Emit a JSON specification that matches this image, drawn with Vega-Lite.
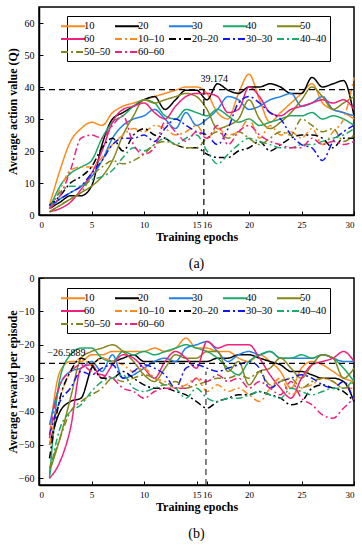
{
"$schema": "https://vega.github.io/schema/vega-lite/v6.json",
"padding": {"left": 5, "top": 6, "right": 4, "bottom": 0},
"spacing": 0,
"config": {
  "font": "Liberation Serif",
  "view": {"stroke": "black", "strokeWidth": 1.5},
  "axis": {"grid": false, "domainColor": "black", "domainWidth": 1.5, "tickColor": "black", "tickSize": -4, "labelColor": "black", "labelFontSize": 10, "labelFont": "Liberation Serif", "titleFont": "Liberation Serif", "titleFontSize": 12, "titleFontWeight": "bold", "titleColor": "black", "labelPadding": 9},
  "axisX": {"labelFontSize": 9, "titlePadding": 2},
  "legend": {"orient": "none", "direction": "horizontal", "columns": 5, "symbolType": "M-2,0H2", "symbolSize": 144, "symbolStrokeWidth": 2, "symbolOffset": -4, "labelFont": "Liberation Serif", "labelFontSize": 10.5, "labelColor": "black", "strokeColor": "black", "fillColor": "white", "padding": 3, "rowPadding": 0, "columnPadding": 0, "gridAlign": "all", "title": null, "labelOffset": 4},
  "title": {"font": "Liberation Serif", "fontSize": 14, "fontWeight": "normal", "color": "black"}
},
"resolve": {"scale": {"color": "independent", "strokeDash": "independent"}, "legend": {"color": "independent", "strokeDash": "independent"}},
"datasets": {
"a": [
{"s":"10","x":1,"y":3},{"s":"10","x":2,"y":14},{"s":"10","x":3,"y":23},{"s":"10","x":4,"y":27},{"s":"10","x":5,"y":29},{"s":"10","x":6,"y":28},{"s":"10","x":7,"y":32},{"s":"10","x":8,"y":34},{"s":"10","x":9,"y":35},{"s":"10","x":10,"y":36},{"s":"10","x":11,"y":37},{"s":"10","x":12,"y":38},{"s":"10","x":13,"y":39},{"s":"10","x":14,"y":40},{"s":"10","x":15,"y":40},{"s":"10","x":16,"y":38},{"s":"10","x":17,"y":32},{"s":"10","x":18,"y":30},{"s":"10","x":19,"y":38},{"s":"10","x":20,"y":44},{"s":"10","x":21,"y":36},{"s":"10","x":22,"y":29},{"s":"10","x":23,"y":32},{"s":"10","x":24,"y":35},{"s":"10","x":25,"y":38},{"s":"10","x":26,"y":41},{"s":"10","x":27,"y":35},{"s":"10","x":28,"y":33},{"s":"10","x":29,"y":32},{"s":"10","x":30,"y":30},
{"s":"20","x":1,"y":2},{"s":"20","x":2,"y":4},{"s":"20","x":3,"y":6},{"s":"20","x":4,"y":6},{"s":"20","x":5,"y":9},{"s":"20","x":6,"y":22},{"s":"20","x":7,"y":30},{"s":"20","x":8,"y":32},{"s":"20","x":9,"y":34},{"s":"20","x":10,"y":36},{"s":"20","x":11,"y":37},{"s":"20","x":12,"y":33},{"s":"20","x":13,"y":36},{"s":"20","x":14,"y":39},{"s":"20","x":15,"y":39},{"s":"20","x":16,"y":36},{"s":"20","x":17,"y":41},{"s":"20","x":18,"y":39},{"s":"20","x":19,"y":38},{"s":"20","x":20,"y":40},{"s":"20","x":21,"y":40},{"s":"20","x":22,"y":41},{"s":"20","x":23,"y":40},{"s":"20","x":24,"y":38},{"s":"20","x":25,"y":38},{"s":"20","x":26,"y":43},{"s":"20","x":27,"y":40},{"s":"20","x":28,"y":41},{"s":"20","x":29,"y":42},{"s":"20","x":30,"y":31},
{"s":"30","x":1,"y":2},{"s":"30","x":2,"y":5},{"s":"30","x":3,"y":7},{"s":"30","x":4,"y":9},{"s":"30","x":5,"y":12},{"s":"30","x":6,"y":17},{"s":"30","x":7,"y":24},{"s":"30","x":8,"y":28},{"s":"30","x":9,"y":30},{"s":"30","x":10,"y":31},{"s":"30","x":11,"y":33},{"s":"30","x":12,"y":30},{"s":"30","x":13,"y":27},{"s":"30","x":14,"y":32},{"s":"30","x":15,"y":28},{"s":"30","x":16,"y":30},{"s":"30","x":17,"y":33},{"s":"30","x":18,"y":37},{"s":"30","x":19,"y":36},{"s":"30","x":20,"y":33},{"s":"30","x":21,"y":34},{"s":"30","x":22,"y":36},{"s":"30","x":23,"y":37},{"s":"30","x":24,"y":38},{"s":"30","x":25,"y":34},{"s":"30","x":26,"y":35},{"s":"30","x":27,"y":37},{"s":"30","x":28,"y":33},{"s":"30","x":29,"y":32},{"s":"30","x":30,"y":31},
{"s":"40","x":1,"y":2},{"s":"40","x":2,"y":9},{"s":"40","x":3,"y":13},{"s":"40","x":4,"y":15},{"s":"40","x":5,"y":17},{"s":"40","x":6,"y":24},{"s":"40","x":7,"y":29},{"s":"40","x":8,"y":31},{"s":"40","x":9,"y":34},{"s":"40","x":10,"y":36},{"s":"40","x":11,"y":35},{"s":"40","x":12,"y":31},{"s":"40","x":13,"y":30},{"s":"40","x":14,"y":33},{"s":"40","x":15,"y":32},{"s":"40","x":16,"y":31},{"s":"40","x":17,"y":33},{"s":"40","x":18,"y":31},{"s":"40","x":19,"y":29},{"s":"40","x":20,"y":30},{"s":"40","x":21,"y":28},{"s":"40","x":22,"y":29},{"s":"40","x":23,"y":30},{"s":"40","x":24,"y":31},{"s":"40","x":25,"y":31},{"s":"40","x":26,"y":32},{"s":"40","x":27,"y":30},{"s":"40","x":28,"y":31},{"s":"40","x":29,"y":30},{"s":"40","x":30,"y":28},
{"s":"50","x":1,"y":1},{"s":"50","x":2,"y":3},{"s":"50","x":3,"y":5},{"s":"50","x":4,"y":7},{"s":"50","x":5,"y":9},{"s":"50","x":6,"y":12},{"s":"50","x":7,"y":17},{"s":"50","x":8,"y":25},{"s":"50","x":9,"y":31},{"s":"50","x":10,"y":36},{"s":"50","x":11,"y":35},{"s":"50","x":12,"y":36},{"s":"50","x":13,"y":37},{"s":"50","x":14,"y":38},{"s":"50","x":15,"y":37},{"s":"50","x":16,"y":33},{"s":"50","x":17,"y":27},{"s":"50","x":18,"y":28},{"s":"50","x":19,"y":30},{"s":"50","x":20,"y":36},{"s":"50","x":21,"y":30},{"s":"50","x":22,"y":27},{"s":"50","x":23,"y":29},{"s":"50","x":24,"y":32},{"s":"50","x":25,"y":36},{"s":"50","x":26,"y":40},{"s":"50","x":27,"y":37},{"s":"50","x":28,"y":33},{"s":"50","x":29,"y":35},{"s":"50","x":30,"y":37},
{"s":"60","x":1,"y":1},{"s":"60","x":2,"y":2},{"s":"60","x":3,"y":4},{"s":"60","x":4,"y":8},{"s":"60","x":5,"y":13},{"s":"60","x":6,"y":20},{"s":"60","x":7,"y":29},{"s":"60","x":8,"y":33},{"s":"60","x":9,"y":34},{"s":"60","x":10,"y":35},{"s":"60","x":11,"y":32},{"s":"60","x":12,"y":30},{"s":"60","x":13,"y":34},{"s":"60","x":14,"y":37},{"s":"60","x":15,"y":38},{"s":"60","x":16,"y":38},{"s":"60","x":17,"y":37},{"s":"60","x":18,"y":32},{"s":"60","x":19,"y":33},{"s":"60","x":20,"y":40},{"s":"60","x":21,"y":37},{"s":"60","x":22,"y":32},{"s":"60","x":23,"y":31},{"s":"60","x":24,"y":33},{"s":"60","x":25,"y":34},{"s":"60","x":26,"y":35},{"s":"60","x":27,"y":36},{"s":"60","x":28,"y":35},{"s":"60","x":29,"y":36},{"s":"60","x":30,"y":33},
{"s":"10–10","x":1,"y":2},{"s":"10–10","x":2,"y":8},{"s":"10–10","x":3,"y":14},{"s":"10–10","x":4,"y":15},{"s":"10–10","x":5,"y":15},{"s":"10–10","x":6,"y":18},{"s":"10–10","x":7,"y":22},{"s":"10–10","x":8,"y":25},{"s":"10–10","x":9,"y":27},{"s":"10–10","x":10,"y":26},{"s":"10–10","x":11,"y":28},{"s":"10–10","x":12,"y":27},{"s":"10–10","x":13,"y":25},{"s":"10–10","x":14,"y":26},{"s":"10–10","x":15,"y":28},{"s":"10–10","x":16,"y":24},{"s":"10–10","x":17,"y":27},{"s":"10–10","x":18,"y":25},{"s":"10–10","x":19,"y":26},{"s":"10–10","x":20,"y":30},{"s":"10–10","x":21,"y":24},{"s":"10–10","x":22,"y":28},{"s":"10–10","x":23,"y":25},{"s":"10–10","x":24,"y":26},{"s":"10–10","x":25,"y":24},{"s":"10–10","x":26,"y":27},{"s":"10–10","x":27,"y":22},{"s":"10–10","x":28,"y":26},{"s":"10–10","x":29,"y":30},{"s":"10–10","x":30,"y":43},
{"s":"20–20","x":1,"y":3},{"s":"20–20","x":2,"y":6},{"s":"20–20","x":3,"y":10},{"s":"20–20","x":4,"y":12},{"s":"20–20","x":5,"y":15},{"s":"20–20","x":6,"y":21},{"s":"20–20","x":7,"y":24},{"s":"20–20","x":8,"y":20},{"s":"20–20","x":9,"y":25},{"s":"20–20","x":10,"y":27},{"s":"20–20","x":11,"y":25},{"s":"20–20","x":12,"y":24},{"s":"20–20","x":13,"y":22},{"s":"20–20","x":14,"y":21},{"s":"20–20","x":15,"y":21},{"s":"20–20","x":16,"y":19},{"s":"20–20","x":17,"y":18},{"s":"20–20","x":18,"y":18},{"s":"20–20","x":19,"y":20},{"s":"20–20","x":20,"y":21},{"s":"20–20","x":21,"y":23},{"s":"20–20","x":22,"y":20},{"s":"20–20","x":23,"y":22},{"s":"20–20","x":24,"y":24},{"s":"20–20","x":25,"y":25},{"s":"20–20","x":26,"y":25},{"s":"20–20","x":27,"y":24},{"s":"20–20","x":28,"y":21},{"s":"20–20","x":29,"y":24},{"s":"20–20","x":30,"y":24},
{"s":"30–30","x":1,"y":3},{"s":"30–30","x":2,"y":5},{"s":"30–30","x":3,"y":7},{"s":"30–30","x":4,"y":9},{"s":"30–30","x":5,"y":13},{"s":"30–30","x":6,"y":17},{"s":"30–30","x":7,"y":22},{"s":"30–30","x":8,"y":24},{"s":"30–30","x":9,"y":24},{"s":"30–30","x":10,"y":25},{"s":"30–30","x":11,"y":23},{"s":"30–30","x":12,"y":27},{"s":"30–30","x":13,"y":30},{"s":"30–30","x":14,"y":28},{"s":"30–30","x":15,"y":26},{"s":"30–30","x":16,"y":25},{"s":"30–30","x":17,"y":22},{"s":"30–30","x":18,"y":27},{"s":"30–30","x":19,"y":35},{"s":"30–30","x":20,"y":37},{"s":"30–30","x":21,"y":35},{"s":"30–30","x":22,"y":32},{"s":"30–30","x":23,"y":30},{"s":"30–30","x":24,"y":25},{"s":"30–30","x":25,"y":22},{"s":"30–30","x":26,"y":21},{"s":"30–30","x":27,"y":17},{"s":"30–30","x":28,"y":23},{"s":"30–30","x":29,"y":26},{"s":"30–30","x":30,"y":28},
{"s":"40–40","x":1,"y":2},{"s":"40–40","x":2,"y":7},{"s":"40–40","x":3,"y":9},{"s":"40–40","x":4,"y":9},{"s":"40–40","x":5,"y":11},{"s":"40–40","x":6,"y":12},{"s":"40–40","x":7,"y":14},{"s":"40–40","x":8,"y":18},{"s":"40–40","x":9,"y":21},{"s":"40–40","x":10,"y":20},{"s":"40–40","x":11,"y":22},{"s":"40–40","x":12,"y":24},{"s":"40–40","x":13,"y":22},{"s":"40–40","x":14,"y":24},{"s":"40–40","x":15,"y":25},{"s":"40–40","x":16,"y":20},{"s":"40–40","x":17,"y":16},{"s":"40–40","x":18,"y":19},{"s":"40–40","x":19,"y":22},{"s":"40–40","x":20,"y":24},{"s":"40–40","x":21,"y":23},{"s":"40–40","x":22,"y":22},{"s":"40–40","x":23,"y":21},{"s":"40–40","x":24,"y":21},{"s":"40–40","x":25,"y":22},{"s":"40–40","x":26,"y":22},{"s":"40–40","x":27,"y":23},{"s":"40–40","x":28,"y":24},{"s":"40–40","x":29,"y":25},{"s":"40–40","x":30,"y":27},
{"s":"50–50","x":1,"y":1},{"s":"50–50","x":2,"y":3},{"s":"50–50","x":3,"y":5},{"s":"50–50","x":4,"y":7},{"s":"50–50","x":5,"y":12},{"s":"50–50","x":6,"y":15},{"s":"50–50","x":7,"y":17},{"s":"50–50","x":8,"y":16},{"s":"50–50","x":9,"y":17},{"s":"50–50","x":10,"y":19},{"s":"50–50","x":11,"y":22},{"s":"50–50","x":12,"y":23},{"s":"50–50","x":13,"y":22},{"s":"50–50","x":14,"y":21},{"s":"50–50","x":15,"y":21},{"s":"50–50","x":16,"y":24},{"s":"50–50","x":17,"y":26},{"s":"50–50","x":18,"y":24},{"s":"50–50","x":19,"y":26},{"s":"50–50","x":20,"y":24},{"s":"50–50","x":21,"y":22},{"s":"50–50","x":22,"y":24},{"s":"50–50","x":23,"y":26},{"s":"50–50","x":24,"y":25},{"s":"50–50","x":25,"y":30},{"s":"50–50","x":26,"y":28},{"s":"50–50","x":27,"y":26},{"s":"50–50","x":28,"y":27},{"s":"50–50","x":29,"y":23},{"s":"50–50","x":30,"y":25},
{"s":"60–60","x":1,"y":2},{"s":"60–60","x":2,"y":6},{"s":"60–60","x":3,"y":14},{"s":"60–60","x":4,"y":24},{"s":"60–60","x":5,"y":25},{"s":"60–60","x":6,"y":24},{"s":"60–60","x":7,"y":28},{"s":"60–60","x":8,"y":31},{"s":"60–60","x":9,"y":22},{"s":"60–60","x":10,"y":19},{"s":"60–60","x":11,"y":21},{"s":"60–60","x":12,"y":29},{"s":"60–60","x":13,"y":26},{"s":"60–60","x":14,"y":23},{"s":"60–60","x":15,"y":26},{"s":"60–60","x":16,"y":24},{"s":"60–60","x":17,"y":28},{"s":"60–60","x":18,"y":22},{"s":"60–60","x":19,"y":26},{"s":"60–60","x":20,"y":28},{"s":"60–60","x":21,"y":25},{"s":"60–60","x":22,"y":23},{"s":"60–60","x":23,"y":22},{"s":"60–60","x":24,"y":21},{"s":"60–60","x":25,"y":21},{"s":"60–60","x":26,"y":24},{"s":"60–60","x":27,"y":22},{"s":"60–60","x":28,"y":23},{"s":"60–60","x":29,"y":22},{"s":"60–60","x":30,"y":23}
],
"b": [
{"s":"10","x":1,"y":-47},{"s":"10","x":2,"y":-28},{"s":"10","x":3,"y":-25},{"s":"10","x":4,"y":-25},{"s":"10","x":5,"y":-23},{"s":"10","x":6,"y":-23},{"s":"10","x":7,"y":-22},{"s":"10","x":8,"y":-22},{"s":"10","x":9,"y":-22},{"s":"10","x":10,"y":-22},{"s":"10","x":11,"y":-21},{"s":"10","x":12,"y":-22},{"s":"10","x":13,"y":-21},{"s":"10","x":14,"y":-18},{"s":"10","x":15,"y":-21},{"s":"10","x":16,"y":-21},{"s":"10","x":17,"y":-22},{"s":"10","x":18,"y":-22},{"s":"10","x":19,"y":-24},{"s":"10","x":20,"y":-25},{"s":"10","x":21,"y":-23},{"s":"10","x":22,"y":-25},{"s":"10","x":23,"y":-28},{"s":"10","x":24,"y":-33},{"s":"10","x":25,"y":-27},{"s":"10","x":26,"y":-25},{"s":"10","x":27,"y":-26},{"s":"10","x":28,"y":-28},{"s":"10","x":29,"y":-30},{"s":"10","x":30,"y":-31},
{"s":"20","x":1,"y":-50},{"s":"20","x":2,"y":-40},{"s":"20","x":3,"y":-37},{"s":"20","x":4,"y":-36},{"s":"20","x":5,"y":-27},{"s":"20","x":6,"y":-24},{"s":"20","x":7,"y":-25},{"s":"20","x":8,"y":-24},{"s":"20","x":9,"y":-23},{"s":"20","x":10,"y":-25},{"s":"20","x":11,"y":-25},{"s":"20","x":12,"y":-25},{"s":"20","x":13,"y":-25},{"s":"20","x":14,"y":-25},{"s":"20","x":15,"y":-25},{"s":"20","x":16,"y":-25},{"s":"20","x":17,"y":-24},{"s":"20","x":18,"y":-24},{"s":"20","x":19,"y":-23},{"s":"20","x":20,"y":-23},{"s":"20","x":21,"y":-24},{"s":"20","x":22,"y":-25},{"s":"20","x":23,"y":-26},{"s":"20","x":24,"y":-28},{"s":"20","x":25,"y":-28},{"s":"20","x":26,"y":-29},{"s":"20","x":27,"y":-30},{"s":"20","x":28,"y":-30},{"s":"20","x":29,"y":-31},{"s":"20","x":30,"y":-37},
{"s":"30","x":1,"y":-44},{"s":"30","x":2,"y":-32},{"s":"30","x":3,"y":-28},{"s":"30","x":4,"y":-27},{"s":"30","x":5,"y":-25},{"s":"30","x":6,"y":-28},{"s":"30","x":7,"y":-23},{"s":"30","x":8,"y":-30},{"s":"30","x":9,"y":-29},{"s":"30","x":10,"y":-27},{"s":"30","x":11,"y":-25},{"s":"30","x":12,"y":-24},{"s":"30","x":13,"y":-25},{"s":"30","x":14,"y":-21},{"s":"30","x":15,"y":-20},{"s":"30","x":16,"y":-19},{"s":"30","x":17,"y":-22},{"s":"30","x":18,"y":-25},{"s":"30","x":19,"y":-23},{"s":"30","x":20,"y":-22},{"s":"30","x":21,"y":-23},{"s":"30","x":22,"y":-22},{"s":"30","x":23,"y":-24},{"s":"30","x":24,"y":-24},{"s":"30","x":25,"y":-24},{"s":"30","x":26,"y":-24},{"s":"30","x":27,"y":-23},{"s":"30","x":28,"y":-24},{"s":"30","x":29,"y":-25},{"s":"30","x":30,"y":-25},
{"s":"40","x":1,"y":-60},{"s":"40","x":2,"y":-30},{"s":"40","x":3,"y":-23},{"s":"40","x":4,"y":-21},{"s":"40","x":5,"y":-21},{"s":"40","x":6,"y":-24},{"s":"40","x":7,"y":-25},{"s":"40","x":8,"y":-22},{"s":"40","x":9,"y":-23},{"s":"40","x":10,"y":-22},{"s":"40","x":11,"y":-23},{"s":"40","x":12,"y":-22},{"s":"40","x":13,"y":-21},{"s":"40","x":14,"y":-20},{"s":"40","x":15,"y":-21},{"s":"40","x":16,"y":-22},{"s":"40","x":17,"y":-24},{"s":"40","x":18,"y":-27},{"s":"40","x":19,"y":-29},{"s":"40","x":20,"y":-25},{"s":"40","x":21,"y":-23},{"s":"40","x":22,"y":-22},{"s":"40","x":23,"y":-24},{"s":"40","x":24,"y":-24},{"s":"40","x":25,"y":-23},{"s":"40","x":26,"y":-24},{"s":"40","x":27,"y":-23},{"s":"40","x":28,"y":-24},{"s":"40","x":29,"y":-27},{"s":"40","x":30,"y":-31},
{"s":"50","x":1,"y":-58},{"s":"50","x":2,"y":-48},{"s":"50","x":3,"y":-36},{"s":"50","x":4,"y":-24},{"s":"50","x":5,"y":-22},{"s":"50","x":6,"y":-21},{"s":"50","x":7,"y":-20},{"s":"50","x":8,"y":-22},{"s":"50","x":9,"y":-25},{"s":"50","x":10,"y":-29},{"s":"50","x":11,"y":-31},{"s":"50","x":12,"y":-27},{"s":"50","x":13,"y":-23},{"s":"50","x":14,"y":-24},{"s":"50","x":15,"y":-24},{"s":"50","x":16,"y":-22},{"s":"50","x":17,"y":-22},{"s":"50","x":18,"y":-28},{"s":"50","x":19,"y":-25},{"s":"50","x":20,"y":-32},{"s":"50","x":21,"y":-28},{"s":"50","x":22,"y":-27},{"s":"50","x":23,"y":-24},{"s":"50","x":24,"y":-27},{"s":"50","x":25,"y":-30},{"s":"50","x":26,"y":-26},{"s":"50","x":27,"y":-23},{"s":"50","x":28,"y":-24},{"s":"50","x":29,"y":-30},{"s":"50","x":30,"y":-27},
{"s":"60","x":1,"y":-60},{"s":"60","x":2,"y":-55},{"s":"60","x":3,"y":-45},{"s":"60","x":4,"y":-27},{"s":"60","x":5,"y":-26},{"s":"60","x":6,"y":-30},{"s":"60","x":7,"y":-26},{"s":"60","x":8,"y":-23},{"s":"60","x":9,"y":-24},{"s":"60","x":10,"y":-27},{"s":"60","x":11,"y":-30},{"s":"60","x":12,"y":-25},{"s":"60","x":13,"y":-22},{"s":"60","x":14,"y":-24},{"s":"60","x":15,"y":-27},{"s":"60","x":16,"y":-19},{"s":"60","x":17,"y":-21},{"s":"60","x":18,"y":-20},{"s":"60","x":19,"y":-20},{"s":"60","x":20,"y":-20},{"s":"60","x":21,"y":-24},{"s":"60","x":22,"y":-29},{"s":"60","x":23,"y":-33},{"s":"60","x":24,"y":-36},{"s":"60","x":25,"y":-30},{"s":"60","x":26,"y":-26},{"s":"60","x":27,"y":-25},{"s":"60","x":28,"y":-24},{"s":"60","x":29,"y":-22},{"s":"60","x":30,"y":-25},
{"s":"10–10","x":1,"y":-50},{"s":"10–10","x":2,"y":-36},{"s":"10–10","x":3,"y":-28},{"s":"10–10","x":4,"y":-24},{"s":"10–10","x":5,"y":-26},{"s":"10–10","x":6,"y":-24},{"s":"10–10","x":7,"y":-25},{"s":"10–10","x":8,"y":-26},{"s":"10–10","x":9,"y":-28},{"s":"10–10","x":10,"y":-27},{"s":"10–10","x":11,"y":-30},{"s":"10–10","x":12,"y":-31},{"s":"10–10","x":13,"y":-33},{"s":"10–10","x":14,"y":-32},{"s":"10–10","x":15,"y":-30},{"s":"10–10","x":16,"y":-34},{"s":"10–10","x":17,"y":-32},{"s":"10–10","x":18,"y":-34},{"s":"10–10","x":19,"y":-33},{"s":"10–10","x":20,"y":-35},{"s":"10–10","x":21,"y":-37},{"s":"10–10","x":22,"y":-33},{"s":"10–10","x":23,"y":-30},{"s":"10–10","x":24,"y":-35},{"s":"10–10","x":25,"y":-33},{"s":"10–10","x":26,"y":-32},{"s":"10–10","x":27,"y":-30},{"s":"10–10","x":28,"y":-31},{"s":"10–10","x":29,"y":-33},{"s":"10–10","x":30,"y":-33},
{"s":"20–20","x":1,"y":-54},{"s":"20–20","x":2,"y":-36},{"s":"20–20","x":3,"y":-28},{"s":"20–20","x":4,"y":-24},{"s":"20–20","x":5,"y":-26},{"s":"20–20","x":6,"y":-30},{"s":"20–20","x":7,"y":-30},{"s":"20–20","x":8,"y":-28},{"s":"20–20","x":9,"y":-30},{"s":"20–20","x":10,"y":-32},{"s":"20–20","x":11,"y":-33},{"s":"20–20","x":12,"y":-33},{"s":"20–20","x":13,"y":-34},{"s":"20–20","x":14,"y":-35},{"s":"20–20","x":15,"y":-37},{"s":"20–20","x":16,"y":-39},{"s":"20–20","x":17,"y":-37},{"s":"20–20","x":18,"y":-36},{"s":"20–20","x":19,"y":-35},{"s":"20–20","x":20,"y":-35},{"s":"20–20","x":21,"y":-34},{"s":"20–20","x":22,"y":-35},{"s":"20–20","x":23,"y":-36},{"s":"20–20","x":24,"y":-38},{"s":"20–20","x":25,"y":-37},{"s":"20–20","x":26,"y":-33},{"s":"20–20","x":27,"y":-32},{"s":"20–20","x":28,"y":-33},{"s":"20–20","x":29,"y":-34},{"s":"20–20","x":30,"y":-37},
{"s":"30–30","x":1,"y":-47},{"s":"30–30","x":2,"y":-37},{"s":"30–30","x":3,"y":-33},{"s":"30–30","x":4,"y":-28},{"s":"30–30","x":5,"y":-29},{"s":"30–30","x":6,"y":-27},{"s":"30–30","x":7,"y":-26},{"s":"30–30","x":8,"y":-30},{"s":"30–30","x":9,"y":-28},{"s":"30–30","x":10,"y":-26},{"s":"30–30","x":11,"y":-27},{"s":"30–30","x":12,"y":-29},{"s":"30–30","x":13,"y":-33},{"s":"30–30","x":14,"y":-27},{"s":"30–30","x":15,"y":-26},{"s":"30–30","x":16,"y":-27},{"s":"30–30","x":17,"y":-28},{"s":"30–30","x":18,"y":-27},{"s":"30–30","x":19,"y":-26},{"s":"30–30","x":20,"y":-25},{"s":"30–30","x":21,"y":-27},{"s":"30–30","x":22,"y":-33},{"s":"30–30","x":23,"y":-31},{"s":"30–30","x":24,"y":-30},{"s":"30–30","x":25,"y":-29},{"s":"30–30","x":26,"y":-30},{"s":"30–30","x":27,"y":-32},{"s":"30–30","x":28,"y":-33},{"s":"30–30","x":29,"y":-31},{"s":"30–30","x":30,"y":-37},
{"s":"40–40","x":1,"y":-59},{"s":"40–40","x":2,"y":-45},{"s":"40–40","x":3,"y":-40},{"s":"40–40","x":4,"y":-38},{"s":"40–40","x":5,"y":-34},{"s":"40–40","x":6,"y":-31},{"s":"40–40","x":7,"y":-30},{"s":"40–40","x":8,"y":-29},{"s":"40–40","x":9,"y":-33},{"s":"40–40","x":10,"y":-34},{"s":"40–40","x":11,"y":-33},{"s":"40–40","x":12,"y":-32},{"s":"40–40","x":13,"y":-33},{"s":"40–40","x":14,"y":-36},{"s":"40–40","x":15,"y":-33},{"s":"40–40","x":16,"y":-36},{"s":"40–40","x":17,"y":-37},{"s":"40–40","x":18,"y":-36},{"s":"40–40","x":19,"y":-36},{"s":"40–40","x":20,"y":-35},{"s":"40–40","x":21,"y":-34},{"s":"40–40","x":22,"y":-35},{"s":"40–40","x":23,"y":-36},{"s":"40–40","x":24,"y":-33},{"s":"40–40","x":25,"y":-34},{"s":"40–40","x":26,"y":-35},{"s":"40–40","x":27,"y":-34},{"s":"40–40","x":28,"y":-33},{"s":"40–40","x":29,"y":-33},{"s":"40–40","x":30,"y":-30},
{"s":"50–50","x":1,"y":-57},{"s":"50–50","x":2,"y":-48},{"s":"50–50","x":3,"y":-40},{"s":"50–50","x":4,"y":-37},{"s":"50–50","x":5,"y":-35},{"s":"50–50","x":6,"y":-33},{"s":"50–50","x":7,"y":-30},{"s":"50–50","x":8,"y":-31},{"s":"50–50","x":9,"y":-30},{"s":"50–50","x":10,"y":-29},{"s":"50–50","x":11,"y":-30},{"s":"50–50","x":12,"y":-32},{"s":"50–50","x":13,"y":-31},{"s":"50–50","x":14,"y":-33},{"s":"50–50","x":15,"y":-32},{"s":"50–50","x":16,"y":-31},{"s":"50–50","x":17,"y":-30},{"s":"50–50","x":18,"y":-30},{"s":"50–50","x":19,"y":-29},{"s":"50–50","x":20,"y":-30},{"s":"50–50","x":21,"y":-28},{"s":"50–50","x":22,"y":-32},{"s":"50–50","x":23,"y":-31},{"s":"50–50","x":24,"y":-30},{"s":"50–50","x":25,"y":-33},{"s":"50–50","x":26,"y":-31},{"s":"50–50","x":27,"y":-30},{"s":"50–50","x":28,"y":-31},{"s":"50–50","x":29,"y":-33},{"s":"50–50","x":30,"y":-31},
{"s":"60–60","x":1,"y":-48},{"s":"60–60","x":2,"y":-32},{"s":"60–60","x":3,"y":-28},{"s":"60–60","x":4,"y":-26},{"s":"60–60","x":5,"y":-28},{"s":"60–60","x":6,"y":-29},{"s":"60–60","x":7,"y":-30},{"s":"60–60","x":8,"y":-33},{"s":"60–60","x":9,"y":-34},{"s":"60–60","x":10,"y":-36},{"s":"60–60","x":11,"y":-34},{"s":"60–60","x":12,"y":-33},{"s":"60–60","x":13,"y":-33},{"s":"60–60","x":14,"y":-33},{"s":"60–60","x":15,"y":-30},{"s":"60–60","x":16,"y":-31},{"s":"60–60","x":17,"y":-29},{"s":"60–60","x":18,"y":-31},{"s":"60–60","x":19,"y":-30},{"s":"60–60","x":20,"y":-33},{"s":"60–60","x":21,"y":-31},{"s":"60–60","x":22,"y":-33},{"s":"60–60","x":23,"y":-35},{"s":"60–60","x":24,"y":-31},{"s":"60–60","x":25,"y":-36},{"s":"60–60","x":26,"y":-38},{"s":"60–60","x":27,"y":-41},{"s":"60–60","x":28,"y":-42},{"s":"60–60","x":29,"y":-39},{"s":"60–60","x":30,"y":-36}
]
},
"vconcat": [
{
  "width": 315, "height": 208,
  "title": {"text": "(a)", "orient": "bottom", "offset": 15},
  "encoding": {
    "x": {"field": "x", "type": "quantitative", "scale": {"domain": [0, 30], "nice": false}, "axis": {"title": "Training epochs", "values": [0, 5, 10, 15, 16, 20, 25, 30]}},
    "y": {"field": "y", "type": "quantitative", "scale": {"domain": [0, 65], "nice": false}, "axis": {"title": "Average action value (Q)", "values": [0, 10, 20, 30, 40, 50, 60], "titleX": -20}}
  },
  "layer": [
    {"data": {"name": "a"}, "mark": {"type": "line", "interpolate": "monotone", "strokeWidth": 1.5},
     "encoding": {
       "color": {"field": "s", "type": "nominal", "scale": {"domain": ["10","20","30","40","50","60","10–10","20–20","30–30","40–40","50–50","60–60"], "range": ["#FF8A1C","#000000","#1F80E8","#1AAA6A","#85851A","#F0207F","#FF8A1C","#000000","#1414F0","#1AAA6A","#85851A","#F0207F"]}, "legend": {"legendX": 28, "legendY": 9}},
       "strokeDash": {"field": "s", "type": "nominal", "scale": {"domain": ["10","20","30","40","50","60","10–10","20–20","30–30","40–40","50–50","60–60"], "range": [[1,0],[1,0],[1,0],[1,0],[1,0],[1,0],[7,3,2,3],[7,3,2,3],[7,3,2,3],[7,3,2,3],[7,3,2,3],[7,3,2,3]]}, "legend": {"legendX": 28, "legendY": 9}}
     }},
    {"data": {"values": [{"x": 0, "x2": 30, "y": 39.174}]}, "mark": {"type": "rule", "color": "black", "strokeDash": [6, 4], "strokeWidth": 1.2}, "encoding": {"x2": {"field": "x2"}}},
    {"data": {"values": [{"x": 15.7, "y": 0, "y2": 39.174}]}, "mark": {"type": "rule", "color": "black", "strokeDash": [6, 4], "strokeWidth": 1.2}, "encoding": {"y2": {"field": "y2"}}},
    {"data": {"values": [{"x": 16.7, "y": 42.6, "t": "39.174"}]}, "mark": {"type": "text", "fontSize": 10, "font": "Liberation Serif", "color": "black"}, "encoding": {"text": {"field": "t"}}}
  ]
},
{
  "width": 315, "height": 207,
  "title": {"text": "(b)", "orient": "bottom", "offset": 15},
  "encoding": {
    "x": {"field": "x", "type": "quantitative", "scale": {"domain": [0, 30], "nice": false}, "axis": {"title": "Training epochs", "values": [0, 5, 10, 15, 16, 20, 25, 30]}},
    "y": {"field": "y", "type": "quantitative", "scale": {"domain": [-62, 0], "nice": false}, "axis": {"title": "Average reward per episode", "values": [0, -10, -20, -30, -40, -50, -60], "titleX": -20}}
  },
  "layer": [
    {"data": {"name": "b"}, "mark": {"type": "line", "interpolate": "monotone", "strokeWidth": 1.5},
     "encoding": {
       "color": {"field": "s", "type": "nominal", "scale": {"domain": ["10","20","30","40","50","60","10–10","20–20","30–30","40–40","50–50","60–60"], "range": ["#FF8A1C","#000000","#1F80E8","#1AAA6A","#85851A","#F0207F","#FF8A1C","#000000","#1414F0","#1AAA6A","#85851A","#F0207F"]}, "legend": {"legendX": 28, "legendY": 10}},
       "strokeDash": {"field": "s", "type": "nominal", "scale": {"domain": ["10","20","30","40","50","60","10–10","20–20","30–30","40–40","50–50","60–60"], "range": [[1,0],[1,0],[1,0],[1,0],[1,0],[1,0],[7,3,2,3],[7,3,2,3],[7,3,2,3],[7,3,2,3],[7,3,2,3],[7,3,2,3]]}, "legend": {"legendX": 28, "legendY": 10}}
     }},
    {"data": {"values": [{"x": 0, "x2": 30, "y": -25.6}]}, "mark": {"type": "rule", "color": "black", "strokeDash": [6, 4], "strokeWidth": 1.2}, "encoding": {"x2": {"field": "x2"}}},
    {"data": {"values": [{"x": 15.9, "y": -62, "y2": -28}]}, "mark": {"type": "rule", "color": "#333333", "strokeDash": [6, 4], "strokeWidth": 1.2}, "encoding": {"y2": {"field": "y2"}}},
    {"data": {"values": [{"x": 2.6, "y": -22.4, "t": "−26.5889"}]}, "mark": {"type": "text", "fontSize": 10, "font": "Liberation Serif", "color": "black"}, "encoding": {"text": {"field": "t"}}}
  ]
}
]
}
